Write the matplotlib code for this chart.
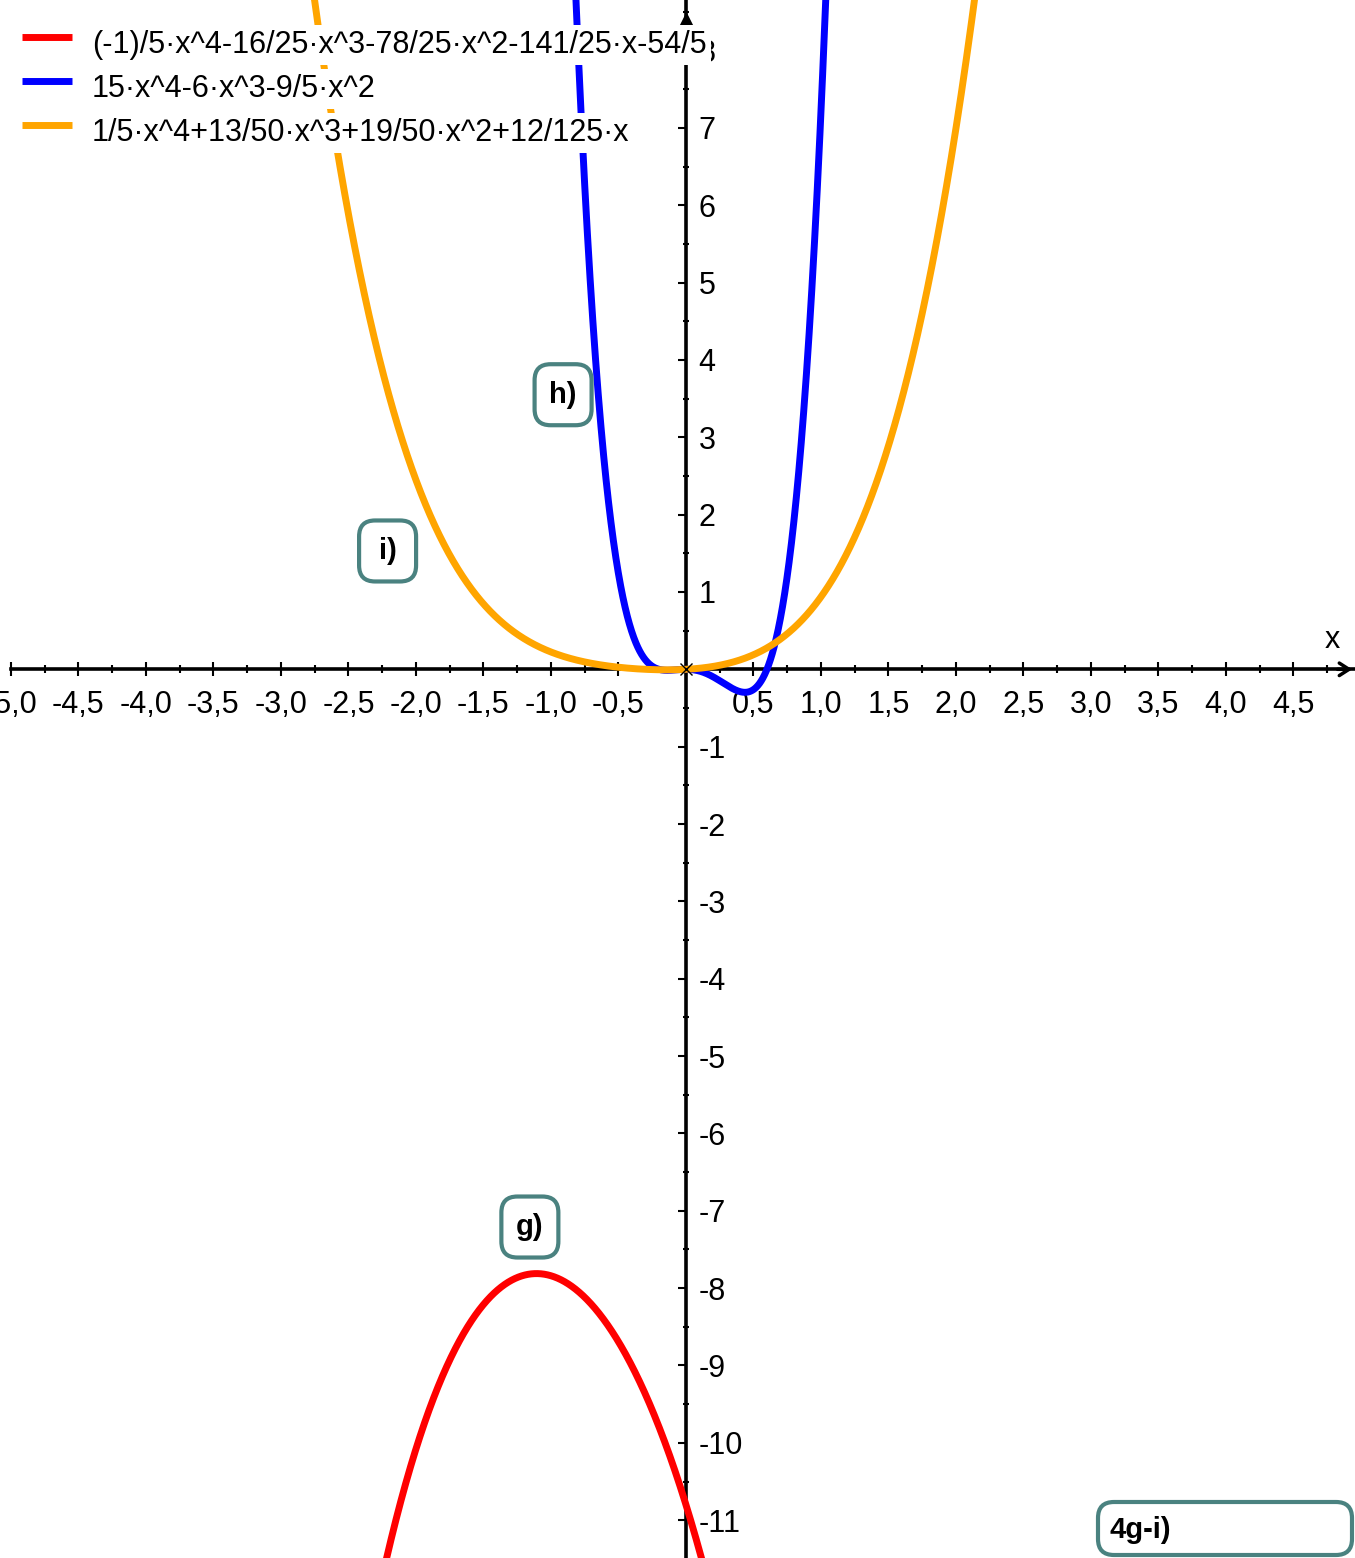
import numpy as np
import matplotlib
matplotlib.use('Agg')
import matplotlib.pyplot as plt
from matplotlib.ticker import MultipleLocator, FuncFormatter
from matplotlib.patches import FancyBboxPatch
from matplotlib import transforms

plt.rcParams['font.family'] = ['Liberation Sans', 'DejaVu Sans']

series_labels = [
    "(-1)/5·x^4-16/25·x^3-78/25·x^2-141/25·x-54/5",
    "15·x^4-6·x^3-9/5·x^2",
    "1/5·x^4+13/50·x^3+19/50·x^2+12/125·x",
]
coef_g = [-1/5, -16/25, -78/25, -141/25, -54/5]
coef_h = [15, -6, -9/5, 0, 0]
coef_i = [1/5, 13/50, 19/50, 12/125, 0]
series_colors = ['#ff0000', '#0000ff', '#ffa500']

box_labels = ['g)', 'h)', 'i)']
box_x = [-1.156, -0.91, -2.21]
box_y = [-7.21, 3.55, 1.53]
title_box = '4g-i)'

XMIN, XMAX = -5.081, 4.956
YMIN, YMAX = -11.489, 8.653

fig = plt.figure(figsize=(13.55, 15.58), dpi=100)
ax = fig.add_axes([0, 0, 1, 1])
ax.set_xlim(XMIN, XMAX)
ax.set_ylim(YMIN, YMAX)
ax.patch.set_facecolor('white')

xs = np.linspace(XMIN, XMAX, 5000)
for coef, col in zip([coef_g, coef_h, coef_i], series_colors):
    ax.plot(xs, np.polyval(coef, xs), color=col, lw=5, zorder=3)

# ---- axes through origin ----
ax.spines['top'].set_visible(False)
ax.spines['left'].set_visible(False)
ax.spines['bottom'].set_position(('data', 0))
ax.spines['right'].set_position(('data', 0))
ax.spines['bottom'].set_bounds(-5.0, XMAX)
for s in ('bottom', 'right'):
    ax.spines[s].set_linewidth(2.6)
    ax.spines[s].set_zorder(2.5)
ax.yaxis.tick_right()

ax.xaxis.set_major_locator(MultipleLocator(0.5))
ax.xaxis.set_minor_locator(MultipleLocator(0.25))
ax.yaxis.set_major_locator(MultipleLocator(1))
ax.yaxis.set_minor_locator(MultipleLocator(0.5))

def xfmt(v, pos):
    if abs(v) < 1e-9:
        return ''
    return f"{v:.1f}".replace('.', ',')

def yfmt(v, pos):
    if abs(v) < 1e-9:
        return ''
    return f"{int(round(v))}"

ax.xaxis.set_major_formatter(FuncFormatter(xfmt))
ax.yaxis.set_major_formatter(FuncFormatter(yfmt))

ax.tick_params(axis='x', which='major', direction='inout', length=10, width=1.5, pad=10, labelsize=22)
ax.tick_params(axis='x', which='minor', direction='inout', length=6, width=1.5)
ax.tick_params(axis='y', which='major', direction='in', length=6, width=1.5, pad=9, labelsize=22)
ax.tick_params(axis='y', which='minor', direction='inout', length=5, width=1.5)

# arrows and axis name
ax.annotate('', xy=(1.0, 0), xycoords=ax.get_yaxis_transform(), xytext=(0.985, 0),
            textcoords=ax.get_yaxis_transform(),
            arrowprops=dict(arrowstyle='->,head_length=0.7,head_width=0.45', lw=2.5, color='black'),
            zorder=4)
ax.plot(0, 0.988, marker='^', color='black', ms=8, transform=ax.get_xaxis_transform(),
        clip_on=False, zorder=4)
ax.text(4.79, 0.38, 'x', fontsize=22, ha='center', va='center', zorder=4)
ax.plot(0, 0, marker='x', color='black', ms=9, mew=1.0, zorder=4)

# ---- legend rows with white backgrounds ----
W, H = 1355.0, 1558.0
for i, (lab, col) in enumerate(zip(series_labels, series_colors)):
    yc = 1 - (45 + 44 * i) / H
    ax.text(92 / W, yc, lab, transform=ax.transAxes, fontsize=22, ha='left', va='center',
            zorder=10, bbox=dict(boxstyle='square,pad=0.15', fc='white', ec='none'))
    ax.plot([22 / W, 72 / W], [yc + 8 / H] * 2, transform=ax.transAxes, color=col,
            lw=5, zorder=11, solid_capstyle='butt')

# ---- label boxes ----
edge = '#4a8280'
bw, bh = 0.57, 0.61
for lab, bx, by in zip(box_labels, box_x, box_y):
    tr = fig.dpi_scale_trans + transforms.ScaledTranslation(bx, by, ax.transData)
    p = FancyBboxPatch((-bw / 2, -bh / 2), bw, bh, boxstyle='round,pad=0,rounding_size=0.16',
                       transform=tr, fc='white', ec=edge, lw=3, zorder=5)
    ax.add_patch(p)
    ax.text(bx, by, lab, fontsize=21, fontweight='bold', ha='center', va='center', zorder=6)

p = FancyBboxPatch((10.98, 0.03), 2.54, 0.53, boxstyle='round,pad=0,rounding_size=0.16',
                   transform=fig.dpi_scale_trans, fc='white', ec=edge, lw=3, zorder=5, clip_on=False)
ax.add_patch(p)
ax.text(11.10, 0.28, title_box, transform=fig.dpi_scale_trans, fontsize=21, fontweight='bold',
        ha='left', va='center', zorder=6)

fig.savefig('out.png', dpi=100)
